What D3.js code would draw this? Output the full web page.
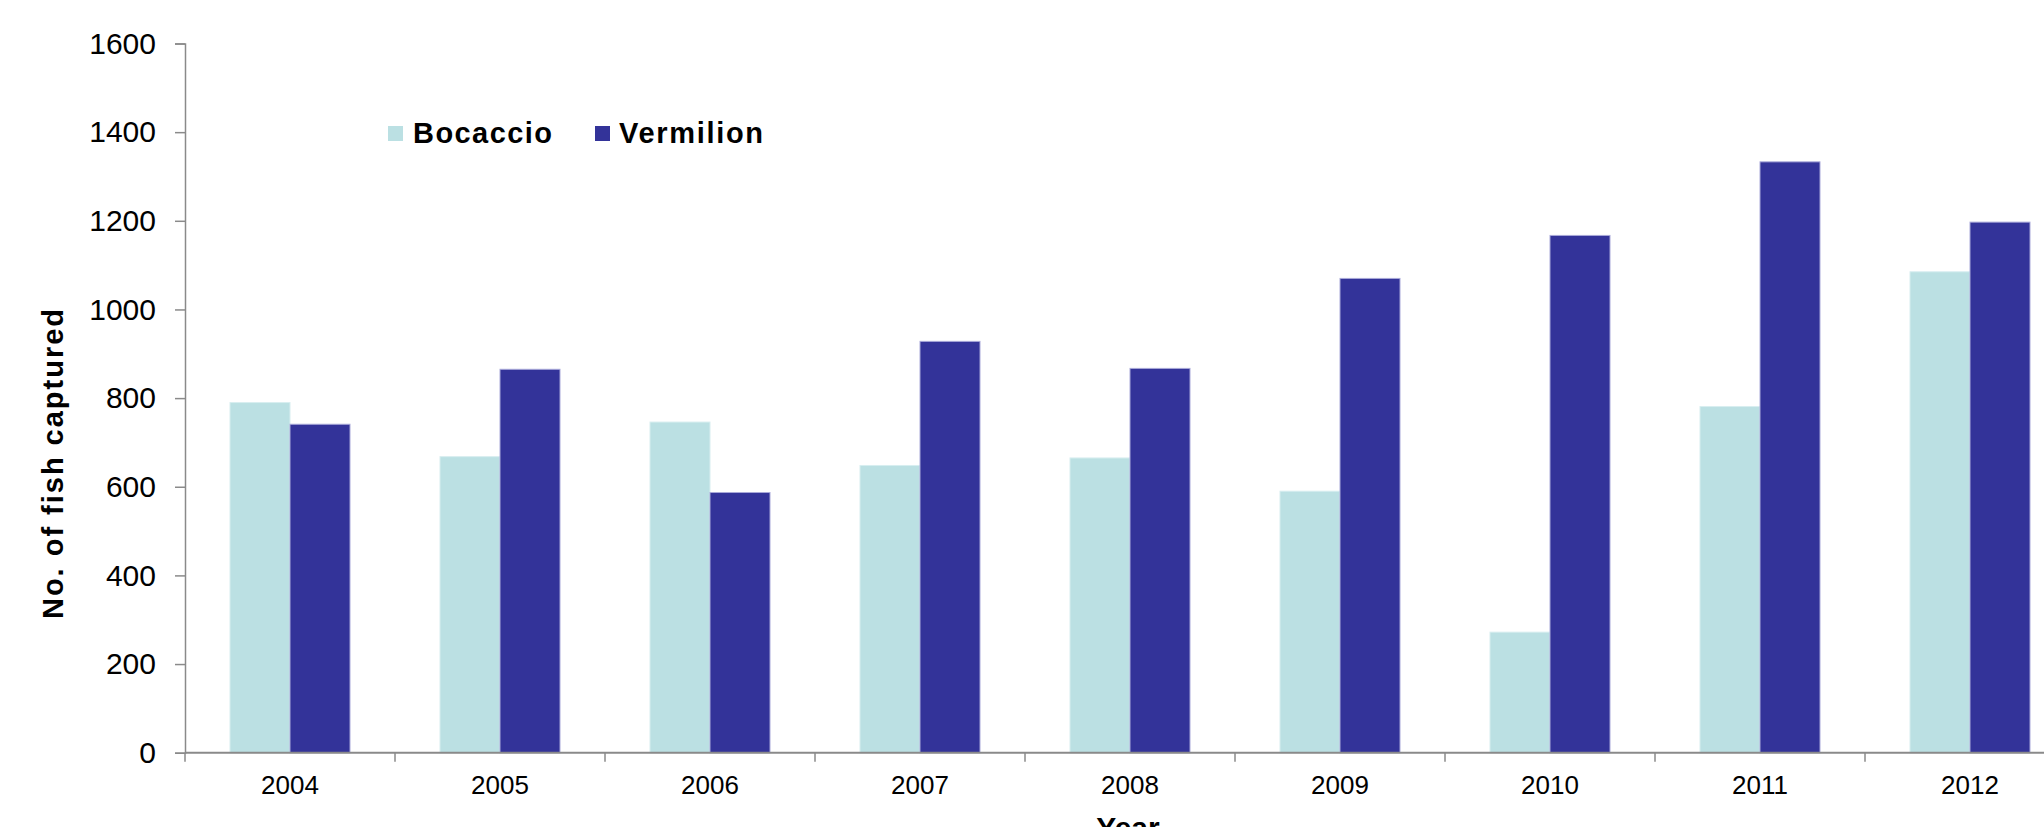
<!DOCTYPE html>
<html>
<head>
<meta charset="utf-8">
<script src="https://cdn.jsdelivr.net/npm/d3@7"></script>
<style>
  html, body { margin: 0; padding: 0; background: #ffffff; overflow: hidden; }
  svg { display: block; font-family: "Liberation Sans", Arial, sans-serif; }
</style>
</head>
<body>
<svg id="chart" width="2044" height="827"></svg>
<script>
// Annual catch by species
const years = ["2004", "2005", "2006", "2007", "2008", "2009", "2010", "2011", "2012"];
const seriesNames = ["Bocaccio", "Vermilion"];
const bocaccio = [790, 668, 746, 648, 665, 590, 272, 781, 1085];
const vermilion = [741, 865, 587, 928, 867, 1070, 1167, 1333, 1197];
const yTicks = [0, 200, 400, 600, 800, 1000, 1200, 1400, 1600];
const seriesColors = ["#BBE0E3", "#333399"];
const seriesStrokes = ["#d8eef0", "#a9a9d9"];

const rows = years.map((yr, i) => ({ year: yr, values: [bocaccio[i], vermilion[i]] }));

const svg = d3.select("#chart");
const plotLeft = 185, plotTop = 43.5, plotBottom = 752.7, step = 210;

const x0 = d3.scaleBand().domain(years).range([plotLeft, plotLeft + step * years.length]).padding(0);
const x1 = d3.scaleBand().domain(seriesNames).range([45, 165]).padding(0);
const y = d3.scaleLinear().domain([0, 1600]).range([plotBottom, plotTop]);
const axisColor = "#8a8a8a";

// Bars
const groups = svg.append("g").selectAll("g")
  .data(rows).join("g")
  .attr("transform", d => `translate(${x0(d.year)},0)`);

groups.selectAll("rect")
  .data(d => d.values.map((v, k) => ({ name: seriesNames[k], value: v, k })))
  .join("rect")
  .attr("x", d => x1(d.name))
  .attr("y", d => y(d.value))
  .attr("width", x1.bandwidth())
  .attr("height", d => plotBottom - y(d.value))
  .attr("fill", d => seriesColors[d.k])
  .attr("stroke", d => seriesStrokes[d.k])
  .attr("stroke-width", 1);

// Y axis
const yAxis = svg.append("g")
  .attr("transform", `translate(${plotLeft},0)`)
  .call(d3.axisLeft(y).tickValues(yTicks).tickSize(10).tickPadding(19).tickFormat(d3.format("d")));
yAxis.select(".domain").attr("stroke", axisColor).attr("stroke-width", 1.5);
yAxis.selectAll(".tick line").attr("stroke", axisColor).attr("stroke-width", 1.5);
yAxis.selectAll(".tick text")
  .attr("font-size", 30)
  .attr("font-family", "'Liberation Sans', Arial, sans-serif")
  .attr("fill", "#000");

// X axis: baseline, boundary ticks, year labels
svg.append("line")
  .attr("x1", plotLeft).attr("x2", x0.range()[1])
  .attr("y1", plotBottom).attr("y2", plotBottom)
  .attr("stroke", axisColor).attr("stroke-width", 2);

const bounds = years.map(yr => x0(yr)).concat([x0.range()[1]]);
svg.append("g").selectAll("line")
  .data(bounds).join("line")
  .attr("x1", d => d).attr("x2", d => d)
  .attr("y1", plotBottom).attr("y2", plotBottom + 9)
  .attr("stroke", axisColor).attr("stroke-width", 1.5);

svg.append("g").selectAll("text")
  .data(years).join("text")
  .attr("x", d => x0(d) + x0.bandwidth() / 2)
  .attr("y", 794)
  .attr("text-anchor", "middle")
  .attr("font-size", 26)
  .attr("fill", "#000")
  .text(d => d);

// Axis titles
svg.append("text")
  .attr("transform", "translate(63,464) rotate(-90)")
  .attr("text-anchor", "middle")
  .attr("font-size", 29)
  .attr("font-weight", "bold")
  .attr("textLength", 310)
  .attr("lengthAdjust", "spacing")
  .attr("fill", "#000")
  .text("No. of fish captured");

svg.append("text")
  .attr("x", 1128)
  .attr("y", 838)
  .attr("text-anchor", "middle")
  .attr("font-size", 30)
  .attr("font-weight", "bold")
  .attr("fill", "#000")
  .text("Year");

// Legend
const legendItems = [
  { name: seriesNames[0], sx: 388, tx: 413, len: 139 },
  { name: seriesNames[1], sx: 595, tx: 619, len: 144 }
];
const legend = svg.append("g");
legend.selectAll("rect")
  .data(legendItems).join("rect")
  .attr("x", d => d.sx).attr("y", 126)
  .attr("width", 15).attr("height", 15)
  .attr("fill", (d, i) => seriesColors[i]);
legend.selectAll("text")
  .data(legendItems).join("text")
  .attr("x", d => d.tx).attr("y", 143)
  .attr("font-size", 29)
  .attr("font-weight", "bold")
  .attr("textLength", d => d.len)
  .attr("lengthAdjust", "spacing")
  .attr("fill", "#000")
  .text(d => d.name);
</script>
</body>
</html>
